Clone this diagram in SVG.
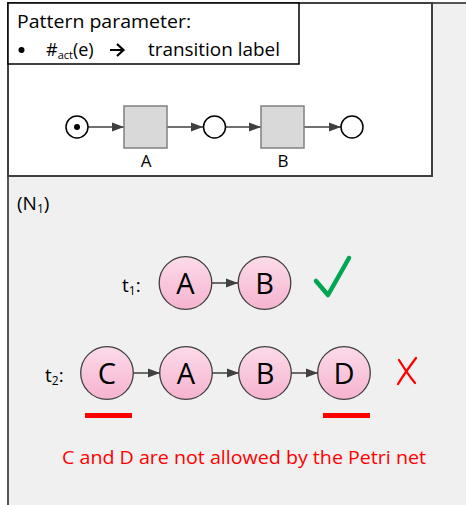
<svg xmlns="http://www.w3.org/2000/svg" width="466" height="505" viewBox="0 0 466 505">
<defs>
<style>
.t{font-family:"Open Sans","Liberation Sans",sans-serif;fill:#000}
.place{fill:#fff;stroke:#000;stroke-width:1.5}
.trans{fill:#d9d9d9;stroke:#808080;stroke-width:1.5}
.ev{fill:url(#pink);stroke:#404040;stroke-width:1.3}
.arc{stroke:#404040;stroke-width:1.5;fill:none}
.evl{font-family:"Open Sans","Liberation Sans",sans-serif;font-size:29px;fill:#000;text-anchor:middle}
</style>
<linearGradient id="pink" x1="0" y1="0" x2="0" y2="1">
<stop offset="0" stop-color="#fcdbe9"/>
<stop offset="1" stop-color="#f6b3d0"/>
</linearGradient>
<marker id="ah" markerWidth="12" markerHeight="10" refX="12" refY="5" orient="auto" markerUnits="userSpaceOnUse">
<path d="M0,0.5 L12,5 L0,9.5 Z" fill="#404040"/>
</marker>
</defs>
<rect x="0" y="0" width="466" height="505" fill="#fff"/>
<rect x="8" y="3" width="470" height="510" fill="#f0f0f0" stroke="#555" stroke-width="2"/>
<rect x="8" y="3" width="424" height="173" fill="#fff" stroke="#404040" stroke-width="2"/>
<g id="pattern-box">
<rect x="8" y="3" width="291" height="61" fill="#fff" stroke="#000" stroke-width="1.5"/>
<text class="t" x="17" y="28" font-size="18" textLength="174" lengthAdjust="spacingAndGlyphs">Pattern parameter:</text>
<circle cx="21.5" cy="50" r="3" fill="#000"/>
<text class="t" x="46" y="56" font-size="18">#<tspan font-size="11" dy="3">act</tspan><tspan dy="-3">(e)</tspan></text>
<path d="M110,50 H123 M117,44 L123.5,50 L117,56" stroke="#000" stroke-width="2.2" fill="none"/>
<text class="t" x="148" y="56" font-size="18" textLength="132" lengthAdjust="spacingAndGlyphs">transition label</text>
</g>
<g id="connectors">
<line class="arc" x1="88" y1="127" x2="124" y2="127" marker-end="url(#ah)"/>
<line class="arc" x1="167" y1="127" x2="203" y2="127" marker-end="url(#ah)"/>
<line class="arc" x1="226" y1="127" x2="261" y2="127" marker-end="url(#ah)"/>
<line class="arc" x1="304" y1="127" x2="341" y2="127" marker-end="url(#ah)"/>
<line class="arc" x1="212" y1="283" x2="238" y2="283" marker-end="url(#ah)"/>
<line class="arc" x1="133" y1="373" x2="160" y2="373" marker-end="url(#ah)"/>
<line class="arc" x1="212" y1="373" x2="239" y2="373" marker-end="url(#ah)"/>
<line class="arc" x1="291" y1="373" x2="318" y2="373" marker-end="url(#ah)"/>
</g>
<g id="p1"><circle class="place" cx="77" cy="127" r="11"/><circle cx="77" cy="127" r="3" fill="#000"/></g>
<g id="tA"><rect class="trans" x="124" y="106" width="43" height="42"/><text class="t" x="146" y="167" font-size="17" text-anchor="middle">A</text></g>
<g id="p2"><circle class="place" cx="214.5" cy="127" r="11"/></g>
<g id="tB"><rect class="trans" x="261" y="106" width="43" height="42"/><text class="t" x="283" y="167" font-size="17" text-anchor="middle">B</text></g>
<g id="p3"><circle class="place" cx="352" cy="127" r="11"/></g>
<text class="t" x="17" y="210" font-size="19">(N<tspan font-size="12" dy="3">1</tspan><tspan dy="-3">)</tspan></text>
<text class="t" x="122" y="292" font-size="19">t<tspan font-size="12" dy="3">1</tspan><tspan dy="-3">:</tspan></text>
<g id="t1-A"><circle class="ev" cx="185.5" cy="283" r="26.3"/><text class="evl" x="185.5" y="294">A</text></g>
<g id="t1-B"><circle class="ev" cx="264.5" cy="283" r="26.3"/><text class="evl" x="264.5" y="294">B</text></g>
<path d="M316,281 L328,295 L349,258" stroke="#00a650" stroke-width="4.5" fill="none" stroke-linecap="round" stroke-linejoin="round"/>
<text class="t" x="45" y="382" font-size="19">t<tspan font-size="12" dy="3">2</tspan><tspan dy="-3">:</tspan></text>
<g id="t2-C"><circle class="ev" cx="107" cy="373" r="26.3"/><text class="evl" x="107" y="384">C</text></g>
<g id="t2-A"><circle class="ev" cx="186" cy="373" r="26.3"/><text class="evl" x="186" y="384">A</text></g>
<g id="t2-B"><circle class="ev" cx="265" cy="373" r="26.3"/><text class="evl" x="265" y="384">B</text></g>
<g id="t2-D"><circle class="ev" cx="344" cy="373" r="26.3"/><text class="evl" x="344" y="384">D</text></g>
<path d="M416,358 C410,366 403,376 398,384 M399,360 C404,368 409,376 415,383" stroke="#ff0000" stroke-width="2.3" fill="none" stroke-linecap="round"/>
<rect x="85" y="413" width="47" height="5" fill="#ff0000"/>
<rect x="323" y="413" width="47" height="5" fill="#ff0000"/>
<text x="62" y="464" font-family="Open Sans, Liberation Sans, sans-serif" font-size="18" fill="#ff0000" textLength="364" lengthAdjust="spacingAndGlyphs">C and D are not allowed by the Petri net</text>
</svg>
